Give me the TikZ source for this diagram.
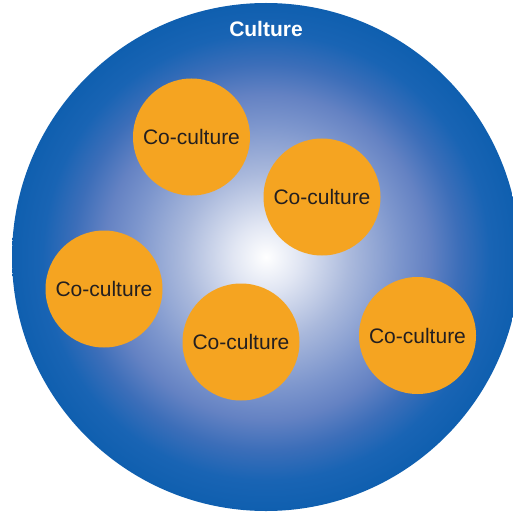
\documentclass[tikz,border=0pt]{standalone}
\usepackage{fontspec}
\setmainfont{Liberation Sans}
\definecolor{gA}{RGB}{225,230,243}
\definecolor{gB}{RGB}{170,185,220}
\definecolor{gC}{RGB}{125,150,205}
\definecolor{gD}{RGB}{100,130,195}
\definecolor{gE}{RGB}{60,110,185}
\definecolor{gF}{RGB}{25,100,180}
\definecolor{cblue}{RGB}{15,95,175}
\definecolor{corange}{RGB}{245,164,33}
\definecolor{ctext}{RGB}{35,31,32}
\pgfdeclareradialshading{culture}{\pgfpoint{0bp}{0bp}}{color(0bp)=(white); color(3.25bp)=(gA); color(8.25bp)=(gB); color(13bp)=(gC); color(16bp)=(gD); color(19bp)=(gE); color(22bp)=(gF); color(25bp)=(cblue); color(50bp)=(cblue)}
\tikzset{
  cocult/.style={circle, fill=corange, minimum size=117pt, inner sep=0pt, text=ctext, font=\fontsize{21}{25}\selectfont},
  culturebig/.style={circle, shading=culture, minimum size=508pt, inner sep=0pt},
  culturelabel/.style={text=white, font=\fontsize{21}{25}\selectfont\bfseries}
}
\begin{document}
\begin{tikzpicture}[x=1pt,y=-1pt]
\useasboundingbox (0,0) rectangle (512,513);
\node[culturebig] (culture) at (266,257) {};
\node[culturelabel] (title) at (266,29) {Culture};
\node[cocult] (c1) at (191.5,137) {Co-culture};
\node[cocult] (c2) at (322,197) {Co-culture};
\node[cocult] (c3) at (104,289) {Co-culture};
\node[cocult] (c4) at (241,342) {Co-culture};
\node[cocult] (c5) at (417.5,335.5) {Co-culture};
\end{tikzpicture}
\end{document}
